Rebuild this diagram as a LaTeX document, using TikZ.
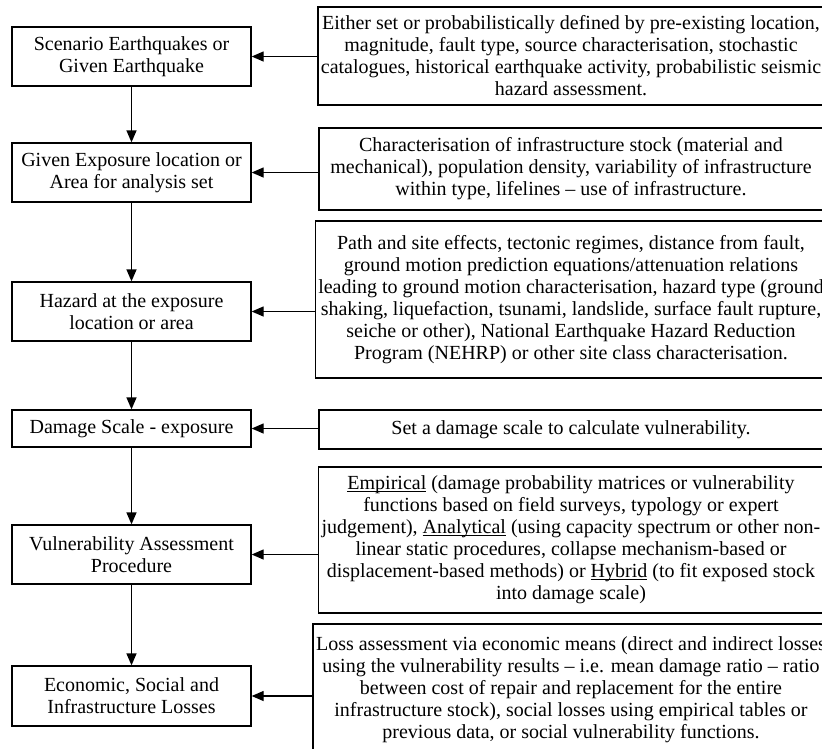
\documentclass[tikz,border=0pt]{standalone}
\usepackage{fontspec}
\setmainfont{Liberation Serif}
\usetikzlibrary{arrows.meta}
\newcommand{\methodname}[1]{\underline{\smash{#1}}}

\begin{document}
\begin{tikzpicture}[x=1pt,y=-1pt,
  stage/.style={draw,line width=1.3pt,align=center,minimum width=239pt,inner sep=3pt,font=\fontsize{20}{22}\selectfont},
  note/.style={draw,line width=1.3pt,align=center,minimum width=504pt,inner sep=3pt,font=\fontsize{20}{22}\selectfont},
  flow/.style={line width=1.3pt,-{Triangle[length=12pt,width=10pt]}}]
\useasboundingbox (0,0) rectangle (822,748);
\clip (0,0) rectangle (822,748);
\node[stage,minimum height=59pt] (quake) at (131.5,56.5) {Scenario Earthquakes or\\Given Earthquake};
\node[stage,minimum height=59pt] (expo) at (131.5,172.5) {Given Exposure location or\\Area for analysis set};
\node[stage,minimum height=59pt] (hazard) at (131.5,311.5) {Hazard at the exposure\\location or area};
\node[stage,minimum height=37pt] (dscale) at (131.5,428.5) {Damage Scale - exposure};
\node[stage,minimum height=59pt] (vuln) at (131.5,554.5) {Vulnerability Assessment\\Procedure};
\node[stage,minimum height=60pt] (loss) at (131.5,696) {Economic, Social and\\Infrastructure Losses};
\node[note,minimum height=98pt] (quakeinfo) at (571,56) {Either set or probabilistically defined by pre-existing location,\\
magnitude, fault type, source characterisation, stochastic\\
catalogues, historical earthquake activity, probabilistic seismic\\
hazard assessment.};
\node[note,minimum height=82pt] (expoinfo) at (571,169) {Characterisation of infrastructure stock (material and\\
mechanical), population density, variability of infrastructure\\
within type, lifelines -- use of infrastructure.};
\node[note,minimum height=157pt] (hazinfo) at (571,299.5) {Path and site effects, tectonic regimes, distance from fault,\\
ground motion prediction equations/attenuation relations\\
leading to ground motion characterisation, hazard type (ground\\
shaking, liquefaction, tsunami, landslide, surface fault rupture,\\
seiche or other), National Earthquake Hazard Reduction\\
Program (NEHRP) or other site class characterisation.};
\node[note,minimum height=39pt] (scaleinfo) at (571,429.5) {Set a damage scale to calculate vulnerability.};
\node[note,minimum height=146pt] (vulninfo) at (571,540) {\methodname{Empirical} (damage probability matrices or vulnerability\\
functions based on field surveys, typology or expert\\
judgement), \methodname{Analytical} (using capacity spectrum or other non-\\
linear static procedures, collapse mechanism-based or\\
displacement-based methods) or \methodname{Hybrid} (to fit exposed stock\\
into damage scale)};
\node[note,minimum height=132pt] (lossinfo) at (571,690) {Loss assessment via economic means (direct and indirect losses\\
using the vulnerability results -- i.e. mean damage ratio -- ratio\\
between cost of repair and replacement for the entire\\
infrastructure stock), social losses using empirical tables or\\
previous data, or social vulnerability functions.};
\draw[flow] (quake.south) -- (expo.north);
\draw[flow] (expo.south) -- (hazard.north);
\draw[flow] (hazard.south) -- (dscale.north);
\draw[flow] (dscale.south) -- (vuln.north);
\draw[flow] (vuln.south) -- (loss.north);
\draw[flow] (quakeinfo.west |- quake.east) -- (quake.east);
\draw[flow] (expoinfo.west |- expo.east) -- (expo.east);
\draw[flow] (hazinfo.west |- hazard.east) -- (hazard.east);
\draw[flow] (scaleinfo.west |- dscale.east) -- (dscale.east);
\draw[flow] (vulninfo.west |- vuln.east) -- (vuln.east);
\draw[flow] (lossinfo.west |- loss.east) -- (loss.east);
\end{tikzpicture}
\end{document}
